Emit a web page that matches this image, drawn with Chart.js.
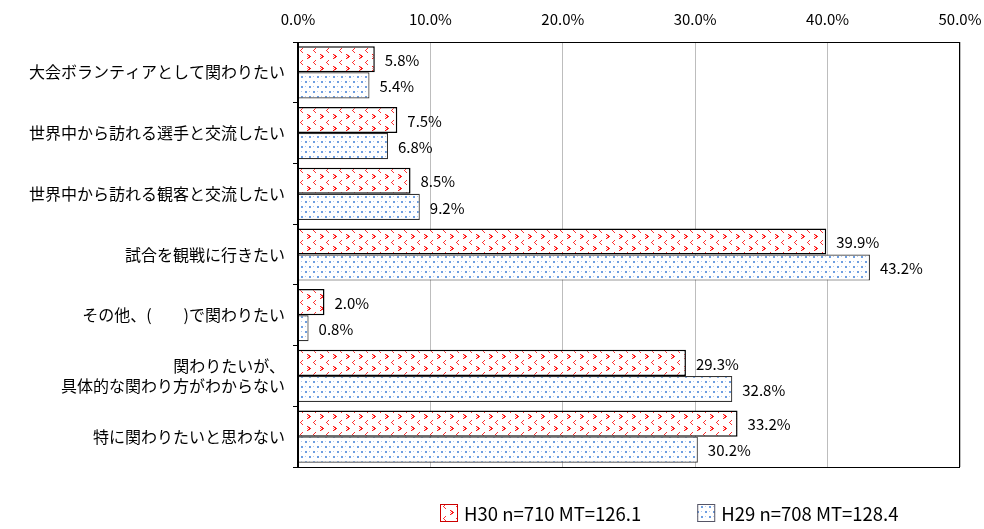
<!DOCTYPE html>
<html lang="ja">
<head>
<meta charset="utf-8">
<title>大会への関わり方</title>
<script src="https://cdn.jsdelivr.net/npm/chart.js@4.4.1/dist/chart.umd.min.js"></script>
<style>
  html, body { margin: 0; padding: 0; background: #fff; }
  #wrap { width: 984px; height: 529px; }
</style>
</head>
<body>
<div id="wrap"><canvas id="chart" width="984" height="529"></canvas></div>
<script>
// ── Data ────────────────────────────────────────────────
const categories = [
  '大会ボランティアとして関わりたい',
  '世界中から訪れる選手と交流したい',
  '世界中から訪れる観客と交流したい',
  '試合を観戦に行きたい',
  'その他、(　　)で関わりたい',
  ['関わりたいが、', '具体的な関わり方がわからない'],
  '特に関わりたいと思わない'
];
const seriesLabels = ['H30 n=710 MT=126.1', 'H29 n=708 MT=128.4'];
const h30Values = [5.8, 7.5, 8.5, 39.9, 2.0, 29.3, 33.2];
const h29Values = [5.4, 6.8, 9.2, 43.2, 0.8, 32.8, 30.2];
const xTicks = [0, 10, 20, 30, 40, 50];

const FONT = '"Noto Sans CJK JP", "Noto Sans", sans-serif';

// ── Fill patterns ───────────────────────────────────────
function redPattern() {
  const c = document.createElement('canvas');
  c.width = 13; c.height = 12;
  const g = c.getContext('2d');
  g.fillStyle = '#fff';
  g.fillRect(0, 0, 13, 12);
  // "<" mark
  g.fillStyle = '#ff3030';
  g.fillRect(3, 0, 1, 1);
  g.fillRect(2, 1, 1, 1);
  g.fillRect(1, 2, 1, 1);
  g.fillRect(2, 3, 1, 1);
  g.fillRect(3, 4, 1, 1);
  // ">" blob
  g.fillStyle = '#ff1a1a';
  g.fillRect(8, 6, 1, 1);
  g.fillRect(9, 7, 2, 1);
  g.fillRect(10, 8, 2, 1);
  g.fillRect(9, 9, 2, 1);
  g.fillRect(8, 10, 1, 1);
  g.fillStyle = '#ff9a9a';
  g.fillRect(9, 6, 1, 1);
  g.fillRect(9, 10, 1, 1);
  g.fillRect(8, 8, 1, 1);
  return g.createPattern(c, 'repeat');
}

function bluePattern() {
  const c = document.createElement('canvas');
  c.width = 8; c.height = 10;
  const g = c.getContext('2d');
  g.fillStyle = '#fff';
  g.fillRect(0, 0, 8, 10);
  g.fillStyle = '#6e9ee0';
  g.fillRect(1, 1, 2, 2);
  g.fillRect(5, 6, 2, 2);
  g.fillStyle = '#b3ccef';
  g.fillRect(5, 1, 1, 1);
  g.fillRect(1, 6, 1, 1);
  return g.createPattern(c, 'repeat');
}

const fills = [redPattern(), bluePattern()];
const borders = ['#000', '#333'];

// ── Plugins ─────────────────────────────────────────────
const frame = {
  id: 'frame',
  afterDatasetsDraw(chart) {
    const { ctx, chartArea: a } = chart;
    ctx.save();
    ctx.strokeStyle = '#000';
    ctx.lineWidth = 1;
    ctx.strokeRect(a.left + 0.5, a.top + 0.5, a.right - a.left - 1, a.bottom - a.top);
    ctx.beginPath();
    ctx.lineWidth = 2;
    ctx.moveTo(a.left, a.top);
    ctx.lineTo(a.left, a.bottom + 1);
    ctx.stroke();
    ctx.restore();
  }
};

const valueLabels = {
  id: 'valueLabels',
  afterDatasetsDraw(chart) {
    const { ctx } = chart;
    ctx.save();
    ctx.font = '15px ' + FONT;
    ctx.fillStyle = '#000';
    ctx.textBaseline = 'middle';
    chart.data.datasets.forEach((ds, i) => {
      chart.getDatasetMeta(i).data.forEach((bar, j) => {
        ctx.fillText(ds.data[j].toFixed(1) + '%', bar.x + 10, bar.y + 1);
      });
    });
    ctx.restore();
  }
};

const legendBoxes = {
  id: 'legendBoxes',
  afterDraw(chart) {
    const { ctx, chartArea: a } = chart;
    ctx.save();
    ctx.font = '18.5px ' + FONT;
    ctx.textBaseline = 'middle';
    const box = 18, gap = 6, spacing = 56;
    let x = a.left + 142;
    const y = 513;
    chart.data.datasets.forEach((ds, i) => {
      ctx.fillStyle = ds.backgroundColor;
      ctx.fillRect(x, y - box / 2, box, box);
      ctx.strokeStyle = i === 0 ? '#c00' : '#556';
      ctx.lineWidth = 1;
      ctx.strokeRect(x + 0.5, y - box / 2 + 0.5, box - 1, box - 1);
      ctx.fillStyle = '#000';
      ctx.fillText(ds.label, x + box + gap, y + 1);
      x += box + gap + ctx.measureText(ds.label).width + spacing;
    });
    ctx.restore();
  }
};

// ── Chart ───────────────────────────────────────────────
new Chart(document.getElementById('chart'), {
  type: 'bar',
  data: {
    labels: categories,
    datasets: [
      { label: seriesLabels[0], data: h30Values, backgroundColor: fills[0], borderColor: borders[0], borderWidth: 1.5 },
      { label: seriesLabels[1], data: h29Values, backgroundColor: fills[1], borderColor: borders[1], borderWidth: 1.2 }
    ]
  },
  options: {
    indexAxis: 'y',
    responsive: false,
    animation: false,
    events: [],
    layout: { padding: { left: 0, right: 24, top: 0, bottom: 62 } },
    datasets: { bar: { categoryPercentage: 0.86, barPercentage: 1.0 } },
    scales: {
      x: {
        position: 'top',
        min: 0,
        max: 50,
        afterBuildTicks: s => { s.ticks = xTicks.map(v => ({ value: v })); },
        afterFit: s => { s.height = 42; s.paddingLeft = 0; s.paddingRight = 0; },
        grid: { color: '#bdbdbd', drawTicks: false, lineWidth: 1 },
        border: { display: false },
        ticks: {
          color: '#000',
          padding: 14,
          font: { family: FONT, size: 15 },
          callback: v => v.toFixed(1) + '%'
        }
      },
      y: {
        afterFit: s => { s.width = 298; s.paddingTop = 0; s.paddingBottom = 0; },
        grid: { offset: true, drawOnChartArea: false, drawTicks: true, tickLength: 5, color: '#000' },
        border: { display: false },
        ticks: {
          color: '#000',
          padding: 8,
          font: { family: FONT, size: 16 }
        }
      }
    },
    plugins: {
      legend: { display: false },
      tooltip: { enabled: false }
    }
  },
  plugins: [frame, valueLabels, legendBoxes]
});
</script>
</body>
</html>
